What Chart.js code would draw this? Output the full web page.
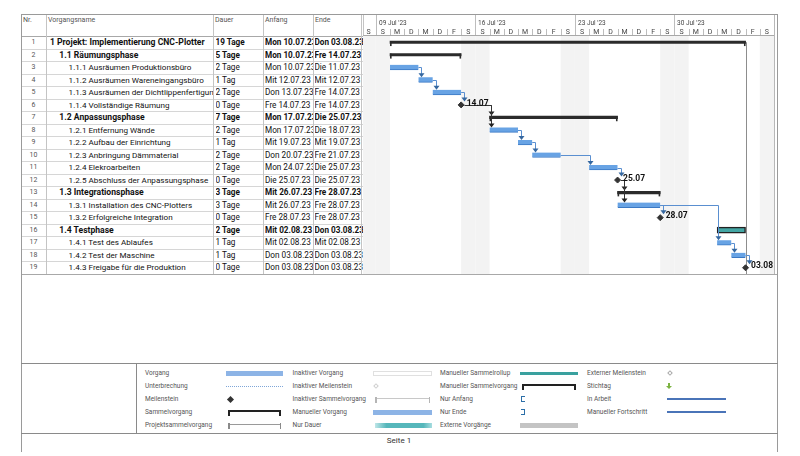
<!DOCTYPE html>
<html lang="de">
<head>
<meta charset="utf-8">
<title>Projekt: Implementierung CNC-Plotter</title>
<script src="https://cdn.jsdelivr.net/npm/chart.js@4.4.1/dist/chart.umd.min.js"></script>
<style>
  html, body { margin: 0; padding: 0; background: #fff; }
  body { width: 800px; height: 456px; position: relative; overflow: hidden;
         font-family: Roboto, "Liberation Sans", sans-serif; color: #111; }
  .ln { position: absolute; background: #cdcdcd; }
  .cell { position: absolute; white-space: nowrap; overflow: hidden; font-size: 8.2px; }
  .name { font-size: 8.1px; }
  .name.b { font-size: 8.6px; }
  .nr { color: #555; font-size: 7px; text-align: center; }
  .hd { position: absolute; font-size: 7px; color: #555; white-space: nowrap; }
  .b { font-weight: bold; }
  #ganttBox { position: absolute; left: 363px; top: 14px; width: 411px; height: 260px; }
  .lg { position: absolute; font-size: 6.5px; color: #555; line-height: 10px; white-space: nowrap; }
  .sym { position: absolute; box-sizing: border-box; }
  #footer { position: absolute; left: 21px; width: 756px; top: 436px; line-height: 10px;
            text-align: center; font-size: 8px; color: #333; }
</style>
</head>
<body>
<div id="page"></div>
<div id="ganttBox"><canvas id="ganttChart"></canvas></div>
<div id="footer">Seite 1</div>
<script>
// Vorgänge
var taskIds = ['1','2','3','4','5','6','7','8','9','10','11','12','13','14','15','16','17','18','19'];
var taskNames = [
  '1 Projekt: Implementierung CNC-Plotter',
  '1.1 Räumungsphase',
  '1.1.1 Ausräumen Produktionsbüro',
  '1.1.2 Ausräumen Wareneingangsbüro',
  '1.1.3 Ausräumen der Dichtlippenfertigung',
  '1.1.4 Vollständige Räumung',
  '1.2 Anpassungsphase',
  '1.2.1 Entfernung Wände',
  '1.2.2 Aufbau der Einrichtung',
  '1.2.3 Anbringung Dämmaterial',
  '1.2.4 Elekroarbeiten',
  '1.2.5 Abschluss der Anpassungsphase',
  '1.3 Integrationsphase',
  '1.3.1 Installation des CNC-Plotters',
  '1.3.2 Erfolgreiche Integration',
  '1.4 Testphase',
  '1.4.1 Test des Ablaufes',
  '1.4.2 Test der Maschine',
  '1.4.3 Freigabe für die Produktion'
];
var taskLevels = [0,1,2,2,2,2,1,2,2,2,2,2,1,2,2,1,2,2,2];
var taskKinds = ['summary','summary','task','task','task','milestone','summary','task','task','task',
                 'task','milestone','summary','task','milestone','manualSummary','task','task','milestone'];
var durations = ['19 Tage','5 Tage','2 Tage','1 Tag','2 Tage','0 Tage','7 Tage','2 Tage','1 Tag','2 Tage',
                 '2 Tage','0 Tage','3 Tage','3 Tage','0 Tage','2 Tage','1 Tag','1 Tag','0 Tage'];
var startTexts = ['Mon 10.07.23','Mon 10.07.23','Mon 10.07.23','Mit 12.07.23','Don 13.07.23','Fre 14.07.23',
                  'Mon 17.07.23','Mon 17.07.23','Mit 19.07.23','Don 20.07.23','Mon 24.07.23','Die 25.07.23',
                  'Mit 26.07.23','Mit 26.07.23','Fre 28.07.23','Mit 02.08.23','Mit 02.08.23','Don 03.08.23','Don 03.08.23'];
var endTexts = ['Don 03.08.23','Fre 14.07.23','Die 11.07.23','Mit 12.07.23','Fre 14.07.23','Fre 14.07.23',
                'Die 25.07.23','Die 18.07.23','Mit 19.07.23','Fre 21.07.23','Die 25.07.23','Die 25.07.23',
                'Fre 28.07.23','Fre 28.07.23','Fre 28.07.23','Don 03.08.23','Mit 02.08.23','Don 03.08.23','Don 03.08.23'];
// Anordnungsbeziehungen (Vorgänger -> Nachfolger)
var links = [[3,4],[4,5],[5,6],[6,7],[6,8],[8,9],[9,10],[10,11],[11,12],[12,13],[12,14],[14,15],[14,17],[17,18],[18,19]];

// Zeitskala
var timelineStart = '08.07.23';
var timelineDays = 29;
var weekLabels = ["09 Jul '23", "16 Jul '23", "23 Jul '23", "30 Jul '23"];
var weekStartDates = ['09.07.23', '16.07.23', '23.07.23', '30.07.23'];
var dayLetters = ['S','M','D','M','D','F','S'];   // So..Sa

var headers = ['Nr.', 'Vorgangsname', 'Dauer', 'Anfang', 'Ende'];

function utc(text) {
  var p = text.split(' ').pop().split('.');
  return Date.UTC(2000 + Number(p[2]), Number(p[1]) - 1, Number(p[0]));
}
var DAY = 86400000;
var origin = utc(timelineStart);
function dayOf(text) { return (utc(text) - origin) / DAY; }

var taskStart = startTexts.map(dayOf);
var taskFinish = endTexts.map(function (t) { return dayOf(t) + 1; });

// ---- Tabelle + Rahmen ----
var page = document.getElementById('page');
var tableTop = 36, tableBottom = 274;
var rowH = (tableBottom - tableTop) / taskIds.length;

function box(cls, x, y, w, h, style) {
  var d = document.createElement('div');
  d.className = cls;
  d.style.left = x + 'px'; d.style.top = y + 'px';
  if (w != null) d.style.width = w + 'px';
  if (h != null) d.style.height = h + 'px';
  if (style) for (var k in style) d.style[k] = style[k];
  page.appendChild(d);
  return d;
}
function hline(x1, x2, y, col) { box('ln', x1, y, x2 - x1, 1, col ? { background: col } : null); }
function vline(x, y1, y2, col) { box('ln', x, y1, 1, y2 - y1, col ? { background: col } : null); }

var colLeft = [21, 46, 213, 263, 313, 363];
var headerX = [23, 48, 215, 265, 315];
headers.forEach(function (h, i) {
  box('hd', headerX[i], 16).textContent = h;
});

for (var i = 0; i < taskIds.length; i++) {
  var rowTop = tableTop + i * rowH;
  var bold = taskKinds[i] === 'summary' || taskKinds[i] === 'manualSummary';
  var bc = bold ? 'cell b' : 'cell';
  var st = { lineHeight: rowH + 'px' };
  box('cell nr', 21, rowTop, 25, rowH, st).textContent = taskIds[i];
  var nx = 50 + taskLevels[i] * 9.3;
  box(bc + ' name', nx, rowTop, 213 - nx, rowH, st).textContent = taskNames[i];
  box(bc, 215.5, rowTop, 47.5, rowH, st).textContent = durations[i];
  box(bc, 265, rowTop, 48.5, rowH, st).textContent = startTexts[i];
  box(bc, 314.5, rowTop, 48.5, rowH, st).textContent = endTexts[i];
  if (i < taskIds.length - 1) hline(21, 363, Math.round(rowTop + rowH), '#d6d6d6');
}
hline(21, 363, tableTop, '#a8a8a8');
colLeft.forEach(function (x) { vline(x, 14, tableBottom, '#c4c4c4'); });
vline(361, 14, tableBottom, '#c4c4c4');
vline(774, 14, tableBottom, '#b8b8b8');
hline(21, 777, tableBottom, '#a8a8a8');
// Außenrahmen
hline(21, 778, 14, '#9a9a9a');
vline(21, 14, 452, '#9a9a9a');
vline(777, 14, 452, '#9a9a9a');
// Legendenrahmen
hline(21, 778, 363, '#8a8a8a');
hline(21, 778, 433, '#8a8a8a');
vline(136, 363, 433, '#8a8a8a');

// ---- Legende ----
var legendRows = [373, 386, 399, 412, 425];
var legendCols = [
  { lx: 145, s0: 226, s1: 283, items: [['Vorgang','bar'],['Unterbrechung','dots'],['Meilenstein','diamond'],['Sammelvorgang','bracket'],['Projektsammelvorgang','greyBracket']] },
  { lx: 292.5, s0: 373, s1: 432, items: [['Inaktiver Vorgang','inactiveBar'],['Inaktiver Meilenstein','inactiveDiamond'],['Inaktiver Sammelvorgang','inactiveBracket'],['Manueller Vorgang','bar'],['Nur Dauer','durationOnly']] },
  { lx: 440, s0: 520, s1: 578, items: [['Manueller Sammelrollup','rollup'],['Manueller Sammelvorgang','bracket'],['Nur Anfang','startOnly'],['Nur Ende','finishOnly'],['Externe Vorgänge','external']] },
  { lx: 587, s0: 667, s1: 726, items: [['Externer Meilenstein','extDiamond'],['Stichtag','deadline'],['In Arbeit','progress'],['Manueller Fortschritt','progress']] }
];

function symbol(type, s0, s1, y) {
  var w = s1 - s0;
  switch (type) {
    case 'bar': box('sym', s0, y - 2.5, w, 5, { background: '#8db4e6' }); break;
    case 'dots': box('sym', s0, y, w, 1, { borderTop: '1px dotted #7fa6d8' }); break;
    case 'diamond': box('sym', s0 + 2, y - 2.5, 5, 5, { background: '#333', transform: 'rotate(45deg)' }); break;
    case 'bracket':
      box('sym', s0 + 2, y - 2, w - 4, 2, { background: '#222' });
      box('sym', s0 + 2, y - 2, 2, 6, { background: '#222' });
      box('sym', s1 - 4, y - 2, 2, 6, { background: '#222' });
      break;
    case 'greyBracket':
      box('sym', s0 + 2, y - 1, w - 4, 1, { background: '#9a9a9a' });
      box('sym', s0 + 2, y - 2.5, 1.5, 6, { background: '#8a8a8a' });
      box('sym', s1 - 3.5, y - 2.5, 1.5, 6, { background: '#8a8a8a' });
      break;
    case 'inactiveBar': box('sym', s0, y - 2.5, w, 5, { border: '1px solid #e0e0e0', background: '#fff' }); break;
    case 'inactiveDiamond': box('sym', s0 + 1, y - 2, 4, 4, { border: '1px solid #cfcfcf', transform: 'rotate(45deg)' }); break;
    case 'inactiveBracket':
      box('sym', s0 + 2, y - 1, w - 4, 1, { background: '#c8c8c8' });
      box('sym', s0 + 2, y - 2.5, 1.5, 6, { background: '#b5b5b5' });
      box('sym', s1 - 3.5, y - 2.5, 1.5, 6, { background: '#b5b5b5' });
      break;
    case 'durationOnly': box('sym', s0 + 2, y - 2.5, w - 2, 5, { background: 'linear-gradient(90deg,#bfe6e8,#56b7bb 20%,#56b7bb 85%,#a8dde0)' }); break;
    case 'rollup': box('sym', s0, y - 1.5, w, 3, { background: '#3aa19f' }); break;
    case 'startOnly': box('sym', s0 + 1, y - 3, 3.5, 6, { border: '1.5px solid #2c6fa8', borderRight: 'none' }); break;
    case 'finishOnly': box('sym', s0 + 1, y - 3, 3.5, 6, { border: '1.5px solid #2c6fa8', borderLeft: 'none' }); break;
    case 'external': box('sym', s0, y - 2.5, w, 5, { background: '#c4c4c4' }); break;
    case 'extDiamond': box('sym', s0 + 1, y - 2, 4, 4, { border: '1px solid #a9a9a9', transform: 'rotate(45deg)' }); break;
    case 'deadline':
      box('sym', s0 + 1, y - 3, 2, 3, { background: '#7cb342' });
      box('sym', s0 - 1, y, 6, 3, { borderLeft: '3px solid transparent', borderRight: '3px solid transparent', borderTop: '3px solid #7cb342', height: '0px' });
      break;
    case 'progress': box('sym', s0, y - 1, w, 2, { background: '#4a74b8' }); break;
  }
}
legendCols.forEach(function (col) {
  col.items.forEach(function (it, r) {
    var y = legendRows[r];
    box('lg', col.lx, y - 5).textContent = it[0];
    symbol(it[1], col.s0, col.s1, y);
  });
});

// ---- Balkendiagramm ----
var taskBars = [], summaryBars = [], manualBars = [], milestonePts = [], milestoneLabels = [];
for (var k = 0; k < taskIds.length; k++) {
  var kind = taskKinds[k];
  if (kind === 'task') taskBars.push({ x: [taskStart[k], taskFinish[k]], y: taskIds[k] });
  else if (kind === 'summary') summaryBars.push({ x: [taskStart[k], taskFinish[k]], y: taskIds[k] });
  else if (kind === 'manualSummary') manualBars.push({ x: [taskStart[k], taskFinish[k]], y: taskIds[k] });
  else if (kind === 'milestone') {
    milestonePts.push({ x: taskFinish[k], y: taskIds[k] });
    milestoneLabels.push(endTexts[k].split(' ')[1].slice(0, 5));
  }
}
var weekStarts = weekStartDates.map(dayOf);

var ganttDecor = {
  id: 'ganttDecor',
  beforeDatasetsDraw: function (chart) {
    var c = chart.ctx, a = chart.chartArea, xs = chart.scales.x, ys = chart.scales.y;
    c.save();
    // Wochenenden
    c.fillStyle = '#f3f3f3';
    for (var d = 0; d < timelineDays; d++) {
      var wd = new Date(origin + d * DAY).getUTCDay();
      if (wd === 0 || wd === 6) {
        var x0 = Math.max(a.left, xs.getPixelForValue(d));
        var x1 = Math.min(a.right, xs.getPixelForValue(d + 1));
        c.fillRect(x0, a.top, x1 - x0, a.bottom - a.top);
      }
    }
    // Projektende
    var pf = Math.round(xs.getPixelForValue(taskFinish[0])) + 0.5;
    c.strokeStyle = '#8d8d8d'; c.lineWidth = 1;
    c.beginPath(); c.moveTo(pf, ys.getPixelForValue(0)); c.lineTo(pf, a.bottom); c.stroke();

    // Zeitskala oben
    c.strokeStyle = '#bdbdbd';
    c.fillStyle = '#444';
    c.textBaseline = 'middle';
    c.font = '6.5px Roboto';
    c.textAlign = 'left';
    weekStarts.forEach(function (ws, w) {
      var wx = Math.round(xs.getPixelForValue(ws)) + 0.5;
      c.beginPath(); c.moveTo(wx, 1); c.lineTo(wx, a.top); c.stroke();
      c.fillText(weekLabels[w], wx + 2.5, 9.5);
    });
    c.textAlign = 'center';
    c.font = '7px Roboto';
    for (var e = 0; e < timelineDays; e++) {
      var l = xs.getPixelForValue(e), r = xs.getPixelForValue(e + 1);
      var wd2 = new Date(origin + e * DAY).getUTCDay();
      c.fillText(dayLetters[wd2], (l + r) / 2, 18.5);
      if (r < a.right - 1) {
        var rx = Math.round(r) + 0.5;
        c.beginPath(); c.moveTo(rx, 15); c.lineTo(rx, a.top); c.stroke();
      }
    }
    c.strokeStyle = '#a8a8a8';
    c.beginPath(); c.moveTo(a.left, a.top - 0.5); c.lineTo(a.right, a.top - 0.5); c.stroke();
    c.restore();
  },
  afterDatasetsDraw: function (chart) {
    var c = chart.ctx, xs = chart.scales.x, ys = chart.scales.y;
    c.save();
    // Sammelvorgang-Enden
    c.fillStyle = '#2b2b2b';
    chart.getDatasetMeta(1).data.forEach(function (el) {
      var l = Math.min(el.x, el.base), r = Math.max(el.x, el.base);
      c.fillRect(l, el.y - 1.2, 1.6, 5);
      c.fillRect(r - 1.6, el.y - 1.2, 1.6, 5);
    });
    // Verknüpfungen
    links.forEach(function (lk) {
      var s = lk[0] - 1, t = lk[1] - 1;
      var fromMs = taskKinds[s] === 'milestone';
      var sx = xs.getPixelForValue(taskFinish[s]) + (fromMs ? 3.5 : 0);
      var sy = ys.getPixelForValue(s);
      var tKind = taskKinds[t];
      var tx = xs.getPixelForValue(tKind === 'milestone' ? taskFinish[t] : taskStart[t]);
      var half = tKind === 'task' ? 2.5 : tKind === 'milestone' ? 3.5 : 2;
      var ty = ys.getPixelForValue(t) - half;
      var turn = Math.round(Math.max(sx + 3, tx + 1)) + 0.5;
      var col = fromMs ? '#333' : '#5a8fd0';
      c.strokeStyle = col; c.lineWidth = 1;
      c.beginPath(); c.moveTo(sx, Math.round(sy) + 0.5); c.lineTo(turn, Math.round(sy) + 0.5); c.lineTo(turn, ty - 3); c.stroke();
      c.fillStyle = fromMs ? '#222' : '#35679f';
      c.beginPath(); c.moveTo(turn - 3, ty - 4); c.lineTo(turn + 3, ty - 4); c.lineTo(turn, ty); c.closePath(); c.fill();
    });
    // Meilenstein-Beschriftung
    c.font = 'bold 8.5px Roboto';
    c.fillStyle = '#111';
    c.textAlign = 'left';
    c.textBaseline = 'middle';
    chart.getDatasetMeta(3).data.forEach(function (pt, m) {
      c.fillText(milestoneLabels[m], pt.x + 5.5, pt.y - 1.5);
    });
    c.restore();
  }
};

new Chart(document.getElementById('ganttChart'), {
  type: 'bar',
  data: {
    labels: taskIds,
    datasets: [
      { type: 'bar', label: 'Vorgang', data: taskBars, grouped: false, barThickness: 5,
        backgroundColor: '#68a3e4', borderColor: '#3b79c4',
        borderWidth: { top: 0, left: 0, right: 0, bottom: 1 }, borderSkipped: false },
      { type: 'bar', label: 'Sammelvorgang', data: summaryBars, grouped: false, barThickness: 2.5,
        backgroundColor: '#2b2b2b' },
      { type: 'bar', label: 'Manueller Sammelvorgang', data: manualBars, grouped: false, barThickness: 6,
        backgroundColor: '#43a6a4', borderColor: '#222', borderWidth: 1.5, borderSkipped: false },
      { type: 'scatter', label: 'Meilenstein', data: milestonePts, pointStyle: 'rectRot',
        pointRadius: 3, backgroundColor: '#333', borderColor: '#333', showLine: false }
    ]
  },
  options: {
    indexAxis: 'y',
    responsive: true,
    maintainAspectRatio: false,
    animation: false,
    layout: { autoPadding: false, padding: { top: 22, left: 0, right: 0, bottom: 0 } },
    scales: {
      x: { type: 'linear', min: 0.1, max: timelineDays, display: false },
      y: { type: 'category', labels: taskIds, offset: true, display: false }
    },
    plugins: { legend: { display: false }, tooltip: { enabled: false } }
  },
  plugins: [ganttDecor]
});
</script>
</body>
</html>
